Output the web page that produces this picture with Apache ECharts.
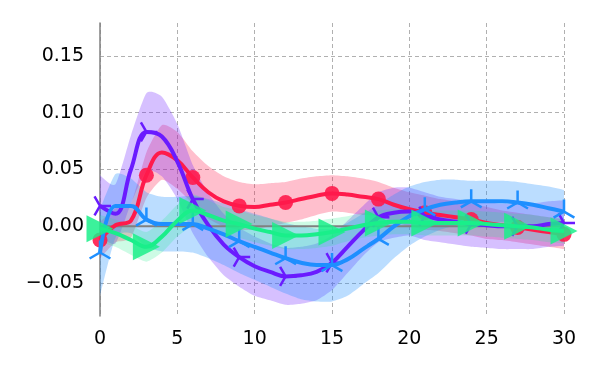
<!DOCTYPE html>
<html><head><meta charset="utf-8">
<script src="https://cdn.jsdelivr.net/npm/echarts@6/dist/echarts.min.js"></script>
<style>html,body{margin:0;padding:0;background:#fff}#c{width:600px;height:375px}</style>
</head><body><div id="c"></div>
<script>
const xs = [0,1,2,3,4,5,6,7,8,9,10,11,12,13,14,15,16,17,18,19,20,21,22,23,24,25,26,27,28,29,30];
const xTicks = [0,5,10,15,20,25,30];
const yTicks = [-0.05,0,0.05,0.1,0.15];

const redMean = [-0.012,0.001,0.005,0.045,0.065,0.058,0.043,0.030,0.022,0.018,0.017,0.019,0.021,0.024,0.027,0.029,0.028,0.026,0.024,0.019,0.015,0.012,0.010,0.008,0.006,0.003,0.001,-0.001,-0.003,-0.005,-0.007];
const redSpread = [0.016,0.015,0.015,0.020,0.024,0.025,0.023,0.023,0.022,0.021,0.020,0.019,0.018,0.018,0.017,0.016,0.016,0.016,0.015,0.015,0.015,0.015,0.014,0.014,0.014,0.014,0.013,0.013,0.013,0.013,0.013];

const purpleMean = [0.018,0.011,0.050,0.083,0.079,0.057,0.024,0.001,-0.016,-0.027,-0.035,-0.040,-0.044,-0.043,-0.040,-0.032,-0.018,-0.004,0.008,0.012,0.013,0.009,0.006,0.004,0.002,0.001,0.000,0.000,0.000,0.002,0.003];
const purpleSpread = [0.027,0.026,0.030,0.034,0.035,0.033,0.030,0.028,0.027,0.026,0.026,0.025,0.025,0.025,0.025,0.024,0.023,0.022,0.022,0.022,0.021,0.021,0.020,0.020,0.020,0.020,0.020,0.020,0.020,0.020,0.020];

const blueMean = [-0.023,0.018,0.018,0.006,0.002,0.002,0.002,-0.002,-0.007,-0.013,-0.018,-0.023,-0.028,-0.032,-0.034,-0.034,-0.029,-0.020,-0.011,0.000,0.009,0.015,0.019,0.021,0.022,0.022,0.022,0.021,0.019,0.016,0.013];
const blueSpread = [0.038,0.028,0.024,0.024,0.024,0.024,0.025,0.026,0.027,0.028,0.029,0.030,0.031,0.032,0.032,0.032,0.032,0.031,0.030,0.028,0.026,0.024,0.022,0.020,0.018,0.018,0.018,0.018,0.018,0.019,0.019];

const greenMean = [-0.002,-0.006,-0.012,-0.018,-0.009,0.005,0.014,0.010,0.005,0.002,-0.002,-0.005,-0.008,-0.008,-0.007,-0.005,-0.002,0.001,0.003,0.004,0.004,0.003,0.003,0.003,0.003,0.002,0.001,0.000,-0.001,-0.003,-0.004];
const greenSpread = [0.012,0.012,0.013,0.013,0.014,0.014,0.014,0.013,0.012,0.012,0.012,0.012,0.012,0.012,0.012,0.012,0.011,0.011,0.011,0.011,0.011,0.011,0.011,0.011,0.011,0.011,0.011,0.011,0.011,0.011,0.011];

const markerEvery = 3;

const SYM_TRI_UP = 'path://M0,0 L0,-10 M0,0 L-8.66,5 M0,0 L8.66,5 M-10,-10 M10,10';
const SYM_TRI_RIGHT = 'path://M0,0 L10,0 M0,0 L-5,-8.66 M0,0 L-5,8.66 M-10,-10 M10,10';
const SYM_TRI_FILL = 'path://M-10,-10 L10,0 L-10,10 Z';

const specs = [
  {name:'red', color:'#ff1a4b', band:'rgba(255,26,75,0.28)', mean:redMean, spread:redSpread, symbol:'circle', size:15, item:{color:'rgba(255,26,75,0.9)', borderWidth:0}},
  {name:'purple', color:'#6a1bff', band:'rgba(106,27,255,0.28)', mean:purpleMean, spread:purpleSpread, symbol:SYM_TRI_RIGHT, size:22, item:{color:'none', borderColor:'#6a1bff', borderWidth:2.5}},
  {name:'blue', color:'#1e8fff', band:'rgba(30,143,255,0.3)', mean:blueMean, spread:blueSpread, symbol:SYM_TRI_UP, size:24, item:{color:'none', borderColor:'#1e8fff', borderWidth:2.5}},
  {name:'green', color:'#1aee8a', band:'rgba(26,238,138,0.22)', mean:greenMean, spread:greenSpread, symbol:SYM_TRI_FILL, size:27, item:{color:'rgba(26,238,138,0.85)', borderWidth:0}}
];

// smooth path through pixel points (Catmull-Rom as cubic bezier)
function curveCmds(pts, startWith) {
  let d = startWith + pts[0][0] + ',' + pts[0][1];
  for (let i = 0; i < pts.length - 1; i++) {
    const p0 = pts[Math.max(i - 1, 0)], p1 = pts[i], p2 = pts[i + 1], p3 = pts[Math.min(i + 2, pts.length - 1)];
    const t = 0.6 / 3;
    const c1 = [p1[0] + (p2[0] - p0[0]) * t / 2, p1[1] + (p2[1] - p0[1]) * t / 2];
    const c2 = [p2[0] - (p3[0] - p1[0]) * t / 2, p2[1] - (p3[1] - p1[1]) * t / 2];
    d += ' C' + c1[0] + ',' + c1[1] + ' ' + c2[0] + ',' + c2[1] + ' ' + p2[0] + ',' + p2[1];
  }
  return d;
}

const series = [];
specs.forEach((s, k) => {
  const hi = xs.map((x,i) => [x, s.mean[i] + s.spread[i]]);
  const lo = xs.map((x,i) => [x, s.mean[i] - s.spread[i]]);
  series.push({
    type:'custom', coordinateSystem:'cartesian2d', data:[[0,0]], z:1, silent:true, clip:true,
    renderItem:(params, api) => {
      const up = hi.map(p => api.coord(p));
      const dn = lo.map(p => api.coord(p)).reverse();
      const d = curveCmds(up, 'M') + ' ' + curveCmds(dn, 'L') + ' Z';
      return {type:'path', shape:{pathData:d}, style:{fill:s.band, stroke:null}};
    }
  });
});
series.push({type:'line', data:[[0,0],[30,0]], symbol:'none', lineStyle:{color:'#808080', width:2}, z:2, silent:true});
specs.forEach((s, k) => {
  const data = xs.map((x,i) => (i % markerEvery === 0) ? {value:[x, s.mean[i]]} : {value:[x, s.mean[i]], symbol:'none'});
  series.push({type:'line', data, smooth:0.4, symbol:s.symbol, symbolSize:s.size, symbolKeepAspect:true, showSymbol:true,
    lineStyle:{color:s.color, width:4}, itemStyle:s.item, z:3+k, silent:true});
});

const chart = echarts.init(document.getElementById('c'), null, {renderer:'canvas'});
chart.setOption({
  animation:false,
  backgroundColor:'#fff',
  grid:{left:100, right:36, top:23, bottom:59},
  xAxis:{type:'value', min:0, max:30, interval:5,
    axisLine:{show:false}, axisTick:{show:false},
    axisLabel:{fontFamily:'DejaVu Sans', fontSize:19, color:'#000', margin:14},
    splitLine:{show:true, lineStyle:{color:'#b0b0b0', width:1, type:[4,3]}}},
  yAxis:{type:'value', min:-0.0788, max:0.1788,
    axisLine:{show:true, lineStyle:{color:'#808080', width:1.5}},
    axisTick:{show:false, customValues:yTicks},
    axisLabel:{customValues:yTicks, fontFamily:'DejaVu Sans', fontSize:19, color:'#000', margin:16,
      formatter:v => v.toFixed(2).replace('-', '\u2212')},
    splitLine:{show:true, lineStyle:{color:'#b0b0b0', width:1, type:[4,3]}}},
  series
});
</script></body></html>
